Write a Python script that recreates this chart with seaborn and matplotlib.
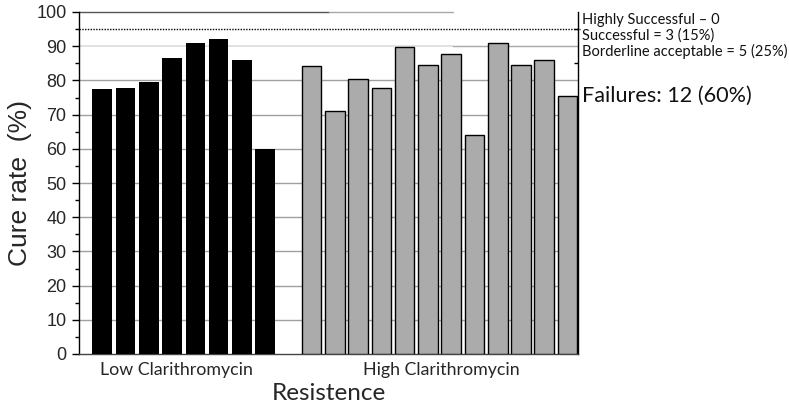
import matplotlib
matplotlib.use("Agg")
import matplotlib.pyplot as plt
import seaborn as sns
import pandas as pd
import numpy as np
from matplotlib.ticker import MultipleLocator, NullFormatter

# ---- data ----
low_values = [77.4, 77.8, 79.5, 86.5, 90.9, 92.1, 86.0, 59.9]
high_values = [84.1, 71.0, 80.3, 77.7, 89.7, 84.4, 87.6, 64.1, 90.8, 84.4, 86.0, 75.3]
group_labels = ["Low Clarithromycin", "High Clarithromycin"]
summary_lines = ["Highly Successful – 0", "Successful = 3 (15%)", "Borderline acceptable = 5 (25%)"]
failures_text = "Failures: 12 (60%)"
y_label = "Cure rate  (%)"
x_label = "Resistence"

low_pos = list(range(len(low_values)))
high_pos = list(range(len(low_values) + 1, len(low_values) + 1 + len(high_values)))

df = pd.DataFrame({
    "pos": low_pos + high_pos,
    "rate": low_values + high_values,
    "group": [group_labels[0]] * len(low_values) + [group_labels[1]] * len(high_values),
})

sns.set_style("white")
fig = plt.figure(figsize=(7.89, 4.09), dpi=100)
L, R, B, T = 79 / 789, 578 / 789, 1 - 354 / 409, 1 - 12 / 409
ax = fig.add_axes([L, B, R - L, T - B])

sns.barplot(data=df, x="pos", y="rate", hue="group", native_scale=True,
            palette={group_labels[0]: "black", group_labels[1]: "#ababab"},
            width=0.84, legend=False, ax=ax, zorder=3)
for patch, g in zip(ax.patches, df["group"]):
    patch.set_edgecolor("black")
    patch.set_linewidth(1.0 if g == group_labels[1] else 0)

ax.set_xlim(-1.0, 20.45)
ax.set_ylim(0, 100)

# gridlines
for v in [10, 20, 30, 40, 50, 60, 70, 80]:
    ax.axhline(v, color="#a0a0a0", lw=1.0, zorder=0.5)
def fx(px):
    return (px - 79) / (578 - 79)
ax.axhline(90, xmin=0, xmax=fx(453), color="#dcdcdc", lw=1.2, zorder=0.5)
ax.axhline(90, xmin=fx(453), xmax=1, color="#a8a8a8", lw=1.0, zorder=0.5)
ax.axhline(100, xmin=0, xmax=fx(329), color="#555555", lw=1.0, zorder=0.5, clip_on=False)
ax.axhline(100, xmin=fx(329), xmax=fx(453), color="#a8a8a8", lw=1.0, zorder=0.5, clip_on=False)
ax.axhline(95, xmin=0, xmax=1.005, color="black", lw=1.0, ls=(0, (1, 1)), zorder=0.6, clip_on=False)

# spines
ax.spines["top"].set_visible(False)
ax.spines["left"].set_color("black")
ax.spines["right"].set_color("black")
ax.spines["bottom"].set_color("#444444")
for s in ["left", "right", "bottom"]:
    ax.spines[s].set_linewidth(1.0)

ax.yaxis.set_major_locator(MultipleLocator(10))
ax.yaxis.set_minor_locator(MultipleLocator(5))
ax.tick_params(axis="y", which="major", left=True, right=False, direction="out",
               length=5, width=1, color="black", labelsize=13, pad=4)
ax.tick_params(axis="y", which="minor", left=True, right=False, direction="out",
               length=3, width=1, color="black")
for t in ax.get_yticklabels():
    t.set_fontfamily("Liberation Sans")

# right-side inward minor ticks
sec = ax.secondary_yaxis("right")
sec.yaxis.set_major_locator(MultipleLocator(10))
sec.yaxis.set_minor_locator(MultipleLocator(5))
sec.yaxis.set_major_formatter(NullFormatter())
sec.tick_params(axis="y", which="major", length=0)
sec.tick_params(axis="y", which="minor", direction="in", length=3, width=1, color="black")
sec.spines["right"].set_visible(False)

ax.set_xticks([3.19, 14.58])
ax.set_xticklabels(group_labels, fontfamily="Lato", fontsize=12.8)
ax.tick_params(axis="x", length=0, pad=6)

ax.set_ylabel(y_label, fontfamily="Liberation Sans", fontsize=19, labelpad=3)
ax.set_xlabel(x_label, fontfamily="Lato", fontsize=17.5, labelpad=3)

# right-side summary text
ys = [20, 35.5, 51]
for line, ypx in zip(summary_lines, ys):
    fig.text(582 / 789, 1 - ypx / 409, line, fontfamily="Lato", fontsize=10.5,
             va="center", ha="left", color="#111111")
fig.text(582 / 789, 1 - 96 / 409, failures_text, fontfamily="Lato", fontsize=15.6,
         va="center", ha="left", color="#111111")

fig.savefig("out.png", dpi=100)
